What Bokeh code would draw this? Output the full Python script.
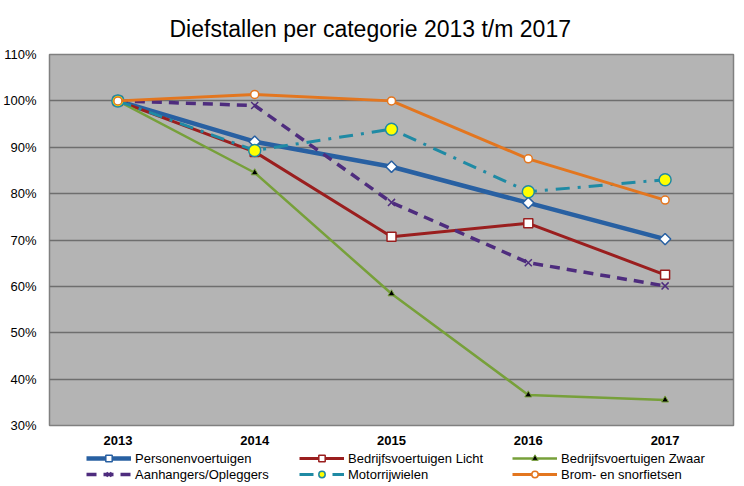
import math
from bokeh.plotting import figure
from bokeh.layouts import column
from bokeh.embed import file_html
from bokeh.resources import INLINE
from bokeh.models import FixedTicker, PrintfTickFormatter, Legend, LegendItem, FactorRange

years = ["2013", "2014", "2015", "2016", "2017"]
personen = [100, 91.2, 85.8, 78.0, 70.2]
licht = [100, 89.0, 70.7, 73.6, 62.5]
zwaar = [100, 84.5, 58.4, 36.6, 35.5]
aanhangers = [100, 99.0, 78.1, 65.1, 60.1]
motor = [100, 89.3, 93.9, 80.4, 83.0]
brom = [100, 101.4, 100.0, 87.5, 78.6]
y_ticks = [30, 40, 50, 60, 70, 80, 90, 100, 110]

FONT = "Liberation Sans"

p = figure(x_range=FactorRange(*years), y_range=(30, 110), width=744, height=450,
           output_backend="svg", toolbar_location=None,
           min_border_left=46, min_border_right=11, min_border_top=54, min_border_bottom=25,
           title="Diefstallen per categorie 2013 t/m 2017")
p.title.align = "left"
p.title.text_font = FONT
p.title.text_font_style = "normal"
p.title.text_font_size = "23px"
p.title.text_color = "black"
p.title.standoff = 26
p.title.offset = 120

p.background_fill_color = "#b4b4b4"
p.border_fill_color = "white"
p.outline_line_color = "#808080"
p.outline_line_width = 1.5
p.xgrid.grid_line_color = None
p.ygrid.grid_line_color = "#6e6e6e"
p.ygrid.grid_line_width = 1.5
p.yaxis.ticker = FixedTicker(ticks=y_ticks)
p.yaxis.formatter = PrintfTickFormatter(format="%d%%")
for ax in (p.xaxis, p.yaxis):
    ax.major_label_text_font = FONT
    ax.major_label_text_font_size = "13px"
    ax.major_label_text_color = "black"
    ax.axis_line_color = None
    ax.major_tick_line_color = None
    ax.minor_tick_line_color = None
    ax.major_tick_out = 0
    ax.major_tick_in = 0
p.yaxis.major_label_standoff = 13
p.xaxis.major_label_text_font_style = "bold"
p.xaxis.major_label_standoff = 10

# legend strip below the chart (same series, drawn outside its visible range)
pl = figure(width=744, height=36, x_range=FactorRange(*years), y_range=(200, 300),
            output_backend="svg", toolbar_location=None,
            x_axis_type=None, y_axis_type=None, min_border=0)
pl.outline_line_color = None
pl.grid.grid_line_color = None
pl.background_fill_color = "white"
pl.border_fill_color = "white"

items = []

def series(name, vals, color, width, dash, marker, msize, fill, mline=None, mwidth=1.5, angle=0.0):
    line_kw = dict(line_color=color, line_width=width, line_dash=dash)
    mark_kw = dict(marker=marker, size=msize, fill_color=fill, angle=angle,
                   line_color=mline or color, line_width=mwidth)
    p.line(years, vals, **line_kw)
    p.scatter(years, vals, **mark_kw)
    l1 = pl.line(years, vals, **line_kw)
    l2 = pl.scatter(years, vals, **mark_kw)
    items.append(LegendItem(label=name, renderers=[l1, l2]))

series("Personenvoertuigen", personen, "#2860a2", 4.5, "solid", "square", 8, "white", angle=math.pi / 4)
series("Bedrijfsvoertuigen Licht", licht, "#9a1e1e", 3, "solid", "square", 9, "white")
series("Bedrijfsvoertuigen Zwaar", zwaar, "#77a03a", 2.5, "solid", "triangle", 7, "black", "#77a03a", 1)
series("Aanhangers/Opleggers", aanhangers, "#4e2c7e", 3.5, "10 7", "x", 10, None, None, 1.5)
series("Motorrijwielen", motor, "#1f8aa4", 3, "14 8 3 8", "circle", 12, "#ffff00", None, 1.5)
series("Brom- en snorfietsen", brom, "#e3761f", 3, "solid", "circle", 8, "white")

leg = Legend(items=items, ncols=3, orientation="horizontal",
             label_text_font=FONT, label_text_font_size="13px", label_text_color="black",
             glyph_width=45, glyph_height=16, label_standoff=4, spacing=0,
             label_height=16, label_width=164, padding=0, margin=0, border_line_color=None,
             background_fill_alpha=0, location=(37, 4))
pl.add_layout(leg, "center")

layout = column(p, pl, spacing=0)
open("out.html", "w").write(file_html(layout, INLINE))
